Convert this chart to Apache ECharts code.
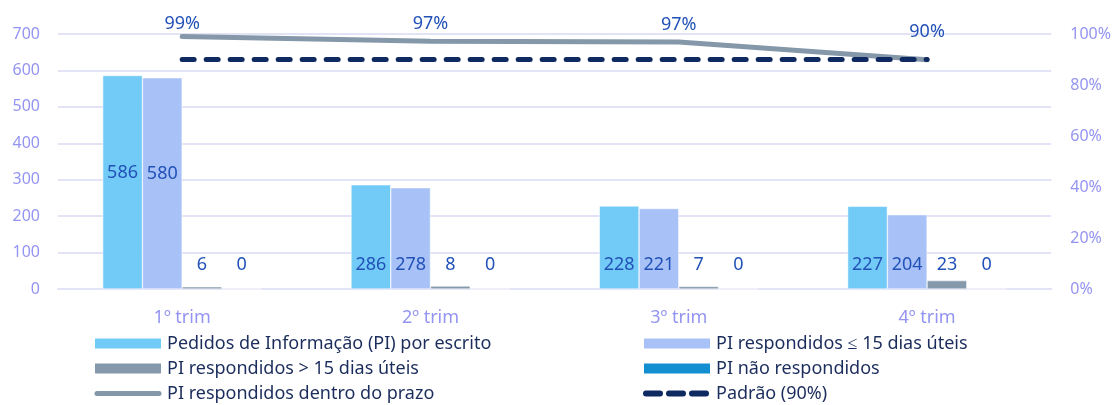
<!DOCTYPE html>
<html><head><meta charset="utf-8">
<script src="https://cdn.jsdelivr.net/npm/echarts@6/dist/echarts.min.js"></script>
<style>html,body{margin:0;padding:0;background:#fff}#c{width:1114px;height:405px}</style>
</head><body><div id="c"></div>
<script>
const categories = ['1º trim', '2º trim', '3º trim', '4º trim'];
const pedidos = [586, 286, 228, 227];
const ate15 = [580, 278, 221, 204];
const mais15 = [6, 8, 7, 23];
const naoResp = [0, 0, 0, 0];
const dentroPrazo = [0.9898, 0.972, 0.969, 0.899];
const padrao = [0.9, 0.9, 0.9, 0.9];
const leftTicks = [0, 700, 100];
const rightTicks = [0, 1, 0.2];

// style: label distances above the line points
const pctLabelDist = [4, 8, 8, 19];

const FONT = 'Noto Sans';
const labelColor = '#2252b8';
const axisColor = '#9494f2';
const gridColor = '#e3e3f8';
const lineIcon = 'path://M0,0 M68,12 M3,3.5 L65,3.5 A2.5,2.5 0 0 1 65,8.5 L3,8.5 A2.5,2.5 0 0 1 3,3.5 Z';
const dashIcon = 'path://M0,0 M68,12 M3,3 h14 a3,3 0 0 1 0,6 h-14 a3,3 0 0 1 0,-6 Z M26,3 h14 a3,3 0 0 1 0,6 h-14 a3,3 0 0 1 0,-6 Z M49,3 h14 a3,3 0 0 1 0,6 h-14 a3,3 0 0 1 0,-6 Z';

function barData(vals) {
  return vals.map(v => v > 400 ? { value: v, label: { position: 'inside', offset: [0, -9] } } : v);
}
function barSeries(name, vals, color) {
  return {
    name, type: 'bar', data: barData(vals), barGap: '0%', barCategoryGap: '36%',
    itemStyle: { color, borderColor: '#ffffff', borderWidth: 0.5 },
    label: { show: true, position: 'insideBottom', distance: 15, color: labelColor, fontFamily: FONT, fontSize: 18 }
  };
}
const legendCommon = {
  top: 334, orient: 'vertical', padding: 0, itemWidth: 68, itemHeight: 12, itemGap: 6,
  textStyle: { color: '#1b2d5c', fontSize: 18, lineHeight: 19, fontFamily: FONT }
};
const chart = echarts.init(document.getElementById('c'), null, { renderer: 'canvas' });
chart.setOption({
  animation: false,
  textStyle: { fontFamily: FONT },
  grid: { left: 58, right: 60, top: 34, bottom: 116, containLabel: false },
  legend: [
    Object.assign({ left: 93, data: [
      { name: 'Pedidos de Informação (PI) por escrito', icon: 'rect' },
      { name: 'PI respondidos > 15 dias úteis', icon: 'rect' },
      { name: 'PI respondidos dentro do prazo', icon: lineIcon, itemStyle: { color: '#8598a9', borderWidth: 0 } }] }, legendCommon),
    Object.assign({ left: 642, data: [
      { name: 'PI respondidos ≤ 15 dias úteis', icon: 'rect' },
      { name: 'PI não respondidos', icon: 'rect' },
      { name: 'Padrão (90%)', icon: dashIcon, itemStyle: { color: '#0e2a60', borderWidth: 0 } }] }, legendCommon)
  ],
  xAxis: {
    type: 'category', data: categories,
    axisLine: { lineStyle: { color: gridColor, width: 2 } }, axisTick: { show: false },
    axisLabel: { color: axisColor, fontSize: 18, fontFamily: FONT, margin: 20 }
  },
  yAxis: [
    { type: 'value', min: leftTicks[0], max: leftTicks[1], interval: leftTicks[2],
      axisLine: { show: false }, axisTick: { show: false },
      axisLabel: { color: axisColor, fontSize: 16, fontFamily: FONT, margin: 18 },
      splitLine: { lineStyle: { color: gridColor, width: 2 } } },
    { type: 'value', min: rightTicks[0], max: rightTicks[1], interval: rightTicks[2],
      axisLine: { show: false }, axisTick: { show: false }, splitLine: { show: false },
      axisLabel: { color: axisColor, fontSize: 16, fontFamily: FONT, margin: 19, formatter: v => Math.round(v * 100) + '%' } }
  ],
  series: [
    barSeries('Pedidos de Informação (PI) por escrito', pedidos, '#72caf6'),
    barSeries('PI respondidos ≤ 15 dias úteis', ate15, '#a8c1f6'),
    barSeries('PI respondidos > 15 dias úteis', mais15, '#8499ab'),
    barSeries('PI não respondidos', naoResp, '#118fd1'),
    { name: 'PI respondidos dentro do prazo', type: 'line', yAxisIndex: 1, z: 2,
      data: dentroPrazo.map((v, i) => ({ value: v, label: { distance: pctLabelDist[i] } })),
      symbol: 'circle', symbolSize: 0.1, showSymbol: true,
      lineStyle: { color: '#8598a9', width: 5, cap: 'round' }, itemStyle: { color: '#8598a9', borderWidth: 0 },
      label: { show: true, position: 'top', distance: 6, color: labelColor, fontSize: 18, fontFamily: FONT,
        formatter: p => Math.round(p.value * 100) + '%' } },
    { name: 'Padrão (90%)', type: 'line', yAxisIndex: 1, data: padrao, symbol: 'none', z: 3,
      lineStyle: { color: '#0e2a60', width: 5, type: [12, 12], cap: 'round' }, itemStyle: { color: '#0e2a60' } }
  ]
});
</script></body></html>
